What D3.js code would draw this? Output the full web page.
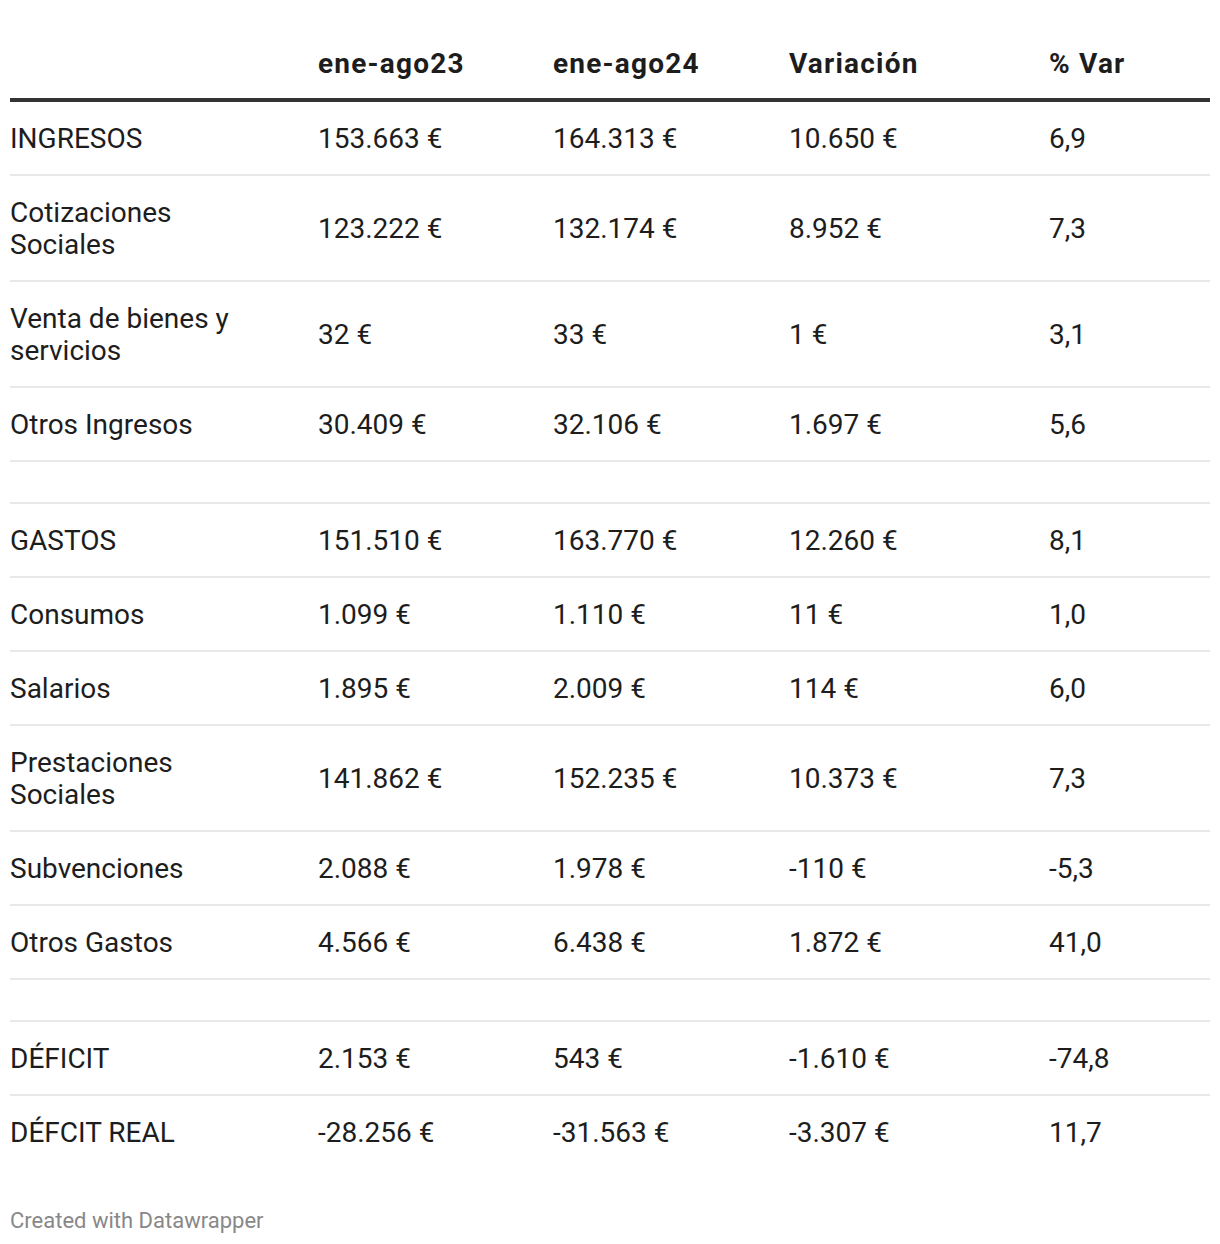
<!DOCTYPE html>
<html><head><meta charset="utf-8">
<script src="https://cdn.jsdelivr.net/npm/d3@7"></script>
<style>
html,body{margin:0;padding:0;background:#fff;}
svg{display:block;font-family:Roboto,"Noto Sans",sans-serif;}
</style></head>
<body>
<svg id="chart" width="1220" height="1244"></svg>
<script>
// ---- data ----
const headers = ["", "ene-ago23", "ene-ago24", "Variación", "% Var"];
const rowLabels = ["INGRESOS","Cotizaciones Sociales","Venta de bienes y servicios","Otros Ingresos",null,
  "GASTOS","Consumos","Salarios","Prestaciones Sociales","Subvenciones","Otros Gastos",null,
  "DÉFICIT","DÉFCIT REAL"];
const eneAgo23 = [153663,123222,32,30409,null,151510,1099,1895,141862,2088,4566,null,2153,-28256];
const eneAgo24 = [164313,132174,33,32106,null,163770,1110,2009,152235,1978,6438,null,543,-31563];
const variacion = [10650,8952,1,1697,null,12260,11,114,10373,-110,1872,null,-1610,-3307];
const pctVar = [6.9,7.3,3.1,5.6,null,8.1,1.0,6.0,7.3,-5.3,41.0,null,-74.8,11.7];

// ---- formatting ----
const loc = d3.formatLocale({decimal:",", thousands:".", grouping:[3], currency:[""," €"], minus:"-"});
const fmtEur = loc.format("$,.0f");
const fmtPct = loc.format(",.1f");

const svg = d3.select("#chart");
const left = 10, right = 1210;
const fontSize = 28, lineH = 32, pad = 21;
const textColor = "#1d1d1d";

const cols = ["label","a","b","c","d"];
const x = d3.scaleOrdinal().domain(cols).range([10,318,553,789,1049]);

// header
const headerY = 63;
svg.selectAll("text.head").data(headers.slice(1)).join("text")
  .attr("class","head")
  .attr("x",(d,i)=>x(cols[i+1])).attr("y",headerY).attr("dy","0.35em")
  .attr("font-size",fontSize).attr("font-weight",700).attr("fill",textColor)
  .attr("letter-spacing","1.2px")
  .text(d=>d);
svg.append("line").attr("x1",left).attr("x2",right).attr("y1",100).attr("y2",100)
  .attr("stroke","#333").attr("stroke-width",4);

// wrap helper
const measure = svg.append("text").attr("font-size",fontSize).attr("visibility","hidden");
function wrap(str, maxW){
  const words = str.split(" "); const lines=[]; let cur="";
  words.forEach(w=>{
    const t = cur ? cur+" "+w : w;
    measure.text(t);
    if(measure.node().getComputedTextLength() > maxW && cur){ lines.push(cur); cur=w; }
    else cur=t;
  });
  if(cur) lines.push(cur);
  return lines;
}

const rows = rowLabels.map((lab,i)=>({
  label: lab,
  lines: lab ? wrap(lab, 250) : [],
  vals: lab ? [fmtEur(eneAgo23[i]), fmtEur(eneAgo24[i]), fmtEur(variacion[i]), fmtPct(pctVar[i])] : []
}));
measure.remove();

let y = 101;
rows.forEach(r=>{
  const n = r.lines.length;
  const h = n ? n*lineH + 2*pad : 2*pad;
  r.top = y; r.h = h; y += h;
});

const g = svg.selectAll("g.row").data(rows).join("g").attr("class","row")
  .attr("transform",d=>`translate(0,${d.top})`);

g.each(function(d,i){
  const sel = d3.select(this);
  const n = d.lines.length;
  const first = d.h/2 - (n-1)*lineH/2;
  sel.selectAll("text.lab").data(d.lines).join("text").attr("class","lab")
    .attr("x",x("label")).attr("y",(l,j)=>first + j*lineH).attr("dy","0.35em")
    .attr("font-size",fontSize).attr("fill",textColor).text(l=>l);
  sel.selectAll("text.val").data(d.vals).join("text").attr("class","val")
    .attr("x",(v,j)=>x(cols[j+1])).attr("y",d.h/2).attr("dy","0.35em")
    .attr("font-size",fontSize).attr("fill",textColor).text(v=>v);
  if(i < rows.length-1){
    sel.append("line").attr("x1",left).attr("x2",right).attr("y1",d.h).attr("y2",d.h)
      .attr("stroke","#e8e8e8").attr("stroke-width",2);
  }
});

svg.append("text").attr("x",10).attr("y",1220).attr("dy","0.35em")
  .attr("font-size",22).attr("fill","#888").text("Created with Datawrapper");
</script>
</body></html>
